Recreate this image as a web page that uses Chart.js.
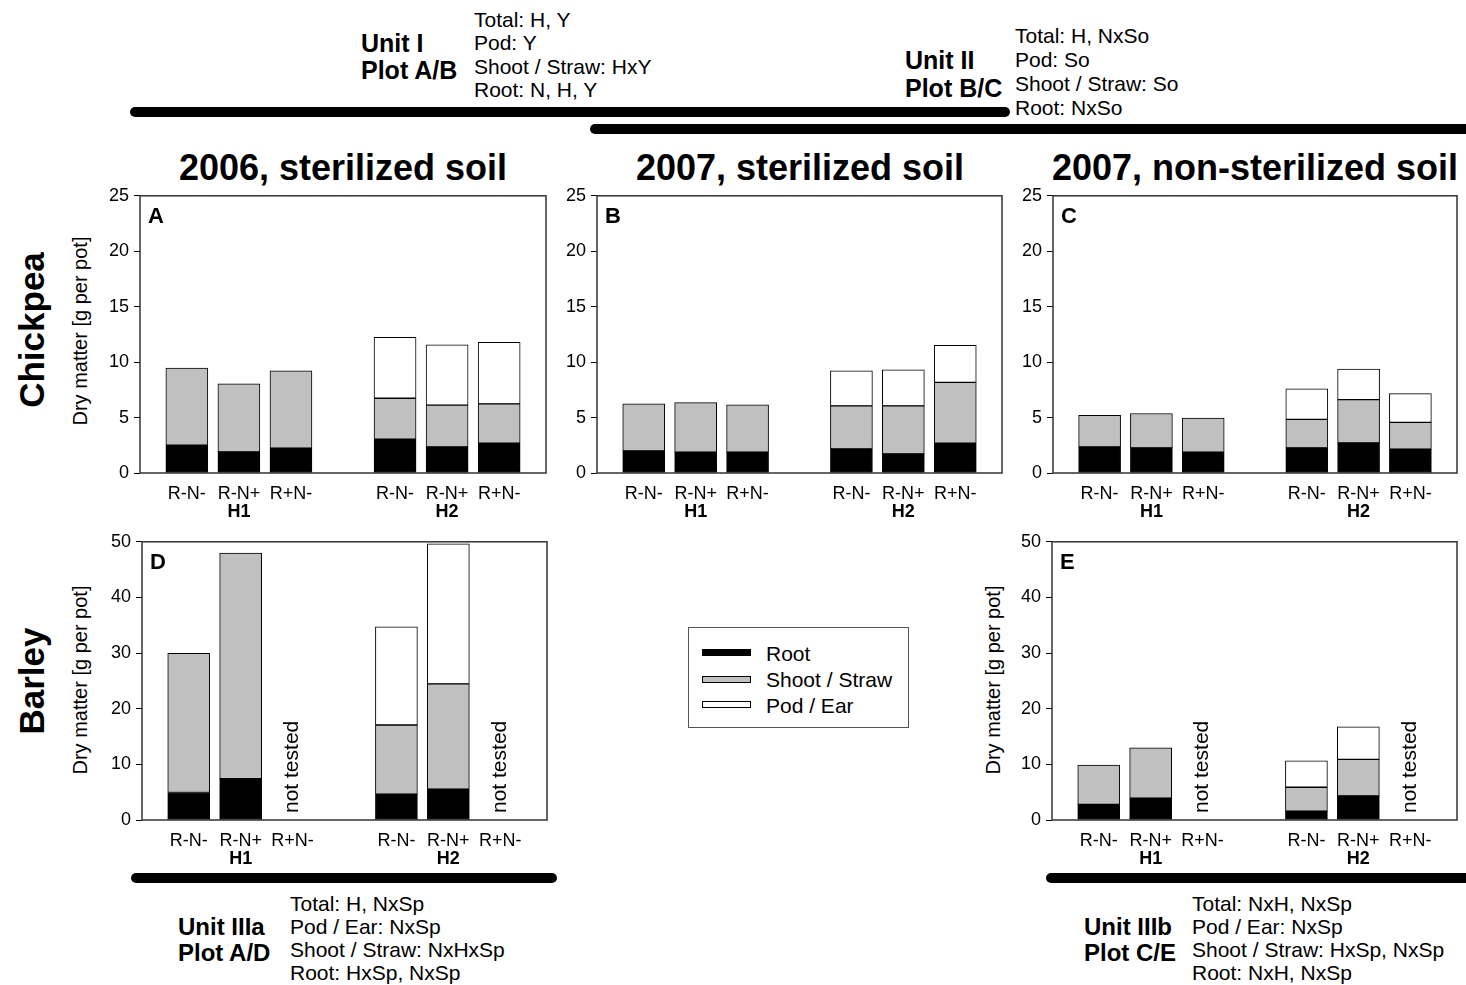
<!DOCTYPE html>
<html>
<head>
<meta charset="utf-8">
<script src="https://cdn.jsdelivr.net/npm/chart.js@4/dist/chart.umd.min.js"></script>
<style>
  html, body { margin: 0; padding: 0; background: #fff; }
  body { width: 1466px; height: 985px; position: relative; overflow: hidden;
         font-family: "Liberation Sans", Arial, Helvetica, sans-serif; color: #000; }
  .t { position: absolute; white-space: nowrap; line-height: 1; transform: translateY(-50%); }
  .b { font-weight: bold; }
  .c { transform: translate(-50%, -50%); }
  .rot { transform: translate(-50%, -50%) rotate(-90deg); }
  .bar { position: absolute; height: 10px; background: #000; border-radius: 5px; }
  canvas { position: absolute; }
  .legend { position: absolute; left: 688px; top: 627px; width: 221px; height: 101px;
            border: 1px solid #555; box-sizing: border-box; }
  .sw { position: absolute; left: 13px; width: 49px; height: 7px; box-sizing: border-box; border: 1px solid #000; }
  .lt { position: absolute; left: 77px; font-size: 21px; line-height: 1; transform: translateY(-50%); white-space: nowrap; }
</style>
</head>
<body>

<!-- statistics annotations and unit bars -->
<div class="t b" style="left:361px;top:43px;font-size:25px">Unit I</div>
<div class="t b" style="left:361px;top:70px;font-size:25px">Plot A/B</div>
<div class="t" style="left:474px;top:19px;font-size:21px">Total: H, Y</div>
<div class="t" style="left:474px;top:42px;font-size:21px">Pod: Y</div>
<div class="t" style="left:474px;top:66px;font-size:21px">Shoot / Straw: HxY</div>
<div class="t" style="left:474px;top:89px;font-size:21px">Root: N, H, Y</div>
<div class="bar" style="left:130px;top:107px;width:880px"></div>

<div class="t b" style="left:905px;top:60px;font-size:25px">Unit II</div>
<div class="t b" style="left:905px;top:88px;font-size:25px">Plot B/C</div>
<div class="t" style="left:1015px;top:35px;font-size:21px">Total: H, NxSo</div>
<div class="t" style="left:1015px;top:59px;font-size:21px">Pod: So</div>
<div class="t" style="left:1015px;top:83px;font-size:21px">Shoot / Straw: So</div>
<div class="t" style="left:1015px;top:107px;font-size:21px">Root: NxSo</div>
<div class="bar" style="left:590px;top:124px;width:900px"></div>

<div class="bar" style="left:131px;top:873px;width:426px"></div>
<div class="t b" style="left:178px;top:927px;font-size:24px">Unit IIIa</div>
<div class="t b" style="left:178px;top:953px;font-size:24px">Plot A/D</div>
<div class="t" style="left:290px;top:903px;font-size:21px">Total: H, NxSp</div>
<div class="t" style="left:290px;top:926px;font-size:21px">Pod / Ear: NxSp</div>
<div class="t" style="left:290px;top:949px;font-size:21px">Shoot / Straw: NxHxSp</div>
<div class="t" style="left:290px;top:972px;font-size:21px">Root: HxSp, NxSp</div>

<div class="bar" style="left:1046px;top:873px;width:450px"></div>
<div class="t b" style="left:1084px;top:927px;font-size:24px">Unit IIIb</div>
<div class="t b" style="left:1084px;top:953px;font-size:24px">Plot C/E</div>
<div class="t" style="left:1192px;top:903px;font-size:21px">Total: NxH, NxSp</div>
<div class="t" style="left:1192px;top:926px;font-size:21px">Pod / Ear: NxSp</div>
<div class="t" style="left:1192px;top:949px;font-size:21px">Shoot / Straw: HxSp, NxSp</div>
<div class="t" style="left:1192px;top:972px;font-size:21px">Root: NxH, NxSp</div>

<!-- column and row headings -->
<div class="t b c" style="left:343px;top:168px;font-size:36px">2006, sterilized soil</div>
<div class="t b c" style="left:800px;top:168px;font-size:36px">2007, sterilized soil</div>
<div class="t b c" style="left:1255px;top:168px;font-size:36px">2007, non-sterilized soil</div>
<div class="t b rot" style="left:31px;top:330px;font-size:35px">Chickpea</div>
<div class="t b rot" style="left:31px;top:681px;font-size:35px">Barley</div>
<div class="t rot" style="left:80px;top:331px;font-size:20px">Dry matter [g per pot]</div>
<div class="t rot" style="left:80px;top:680px;font-size:20px">Dry matter [g per pot]</div>
<div class="t rot" style="left:993px;top:680px;font-size:20px">Dry matter [g per pot]</div>

<!-- legend -->
<div class="legend">
  <div class="sw" style="top:21px;background:#000"></div><div class="lt" style="top:25px">Root</div>
  <div class="sw" style="top:48px;background:#c0c0c0"></div><div class="lt" style="top:51px">Shoot / Straw</div>
  <div class="sw" style="top:73px;background:#fff"></div><div class="lt" style="top:77px">Pod / Ear</div>
</div>

<script>
// Treatments within each host, and the host groups
const treatments = ['R-N-', 'R-N+', 'R+N-'];
const hosts = ['H1', 'H2'];
const seriesNames = ['Root', 'Shoot / Straw', 'Pod / Ear'];
const seriesColors = ['#000000', '#c0c0c0', '#ffffff'];

// Dry matter of each plant part [g per pot]
// order: H1 R-N-, H1 R-N+, H1 R+N-, H2 R-N-, H2 R-N+, H2 R+N-  (null = not tested / absent)
const rootA  = [2.50, 1.90, 2.24, 3.04, 2.36, 2.68];
const shootA = [6.96, 6.15, 6.98, 3.70, 3.76, 3.56];
const podA   = [null, null, null, 5.49, 5.43, 5.54];

const rootB  = [2.00, 1.88, 1.88, 2.18, 1.73, 2.68];
const shootB = [4.24, 4.47, 4.27, 3.88, 4.33, 5.49];
const podB   = [null, null, null, 3.16, 3.25, 3.35];

const rootC  = [2.36, 2.27, 1.88, 2.27, 2.71, 2.15];
const shootC = [2.83, 3.10, 3.07, 2.56, 3.91, 2.41];
const podC   = [null, null, null, 2.75, 2.75, 2.60];

const rootD  = [4.94, 7.44, null, 4.64, 5.54, null];
const shootD = [25.00, 40.54, null, 12.44, 18.92, null];
const podD   = [null, null, null, 17.62, 25.18, null];

const rootE  = [2.80, 3.93, null, 1.60, 4.35, null];
const shootE = [7.08, 9.05, null, 4.29, 6.54, null];
const podE   = [null, null, null, 4.76, 5.84, null];

// y-axis ranges
const chickpeaTicks = { max: 25, step: 5 };
const barleyTicks   = { max: 50, step: 10 };

const FONT = '"Liberation Sans", Arial, Helvetica, sans-serif';

// Plot rectangles on the page: [left, top, right, bottom]
const panels = [
  { letter: 'A', box: [140, 194, 546, 473], axis: chickpeaTicks, series: [rootA, shootA, podA] },
  { letter: 'B', box: [597, 194, 1002, 473], axis: chickpeaTicks, series: [rootB, shootB, podB] },
  { letter: 'C', box: [1053, 194, 1457, 473], axis: chickpeaTicks, series: [rootC, shootC, podC] },
  { letter: 'D', box: [142, 540, 547, 820], axis: barleyTicks, series: [rootD, shootD, podD] },
  { letter: 'E', box: [1052, 540, 1457, 820], axis: barleyTicks, series: [rootE, shootE, podE] }
];

// bar k sits in host group floor(k/3), one empty slot between groups
const xPos = k => Math.floor(k / 3) * 4 + (k % 3);
const tickPositions = [0, 1, 2, 3, 4, 5].map(xPos);

const PAD_L = 72, PAD_T = 14, PAD_R = 12, PAD_B = 60;

const panelDecor = {
  id: 'panelDecor',
  afterDraw(chart, args, opts) {
    const { ctx, chartArea: a, scales: { x, y } } = chart;
    ctx.save();
    // frame around plot area
    ctx.strokeStyle = '#333';
    ctx.lineWidth = 1.5;
    ctx.strokeRect(a.left, a.top, a.right - a.left, a.bottom - a.top);
    ctx.fillStyle = '#000';
    ctx.textBaseline = 'middle';
    // panel letter
    ctx.font = 'bold 22px ' + FONT;
    ctx.textAlign = 'left';
    ctx.fillText(opts.letter, a.left + 8, a.top + 21);
    // host group labels
    ctx.font = 'bold 18px ' + FONT;
    ctx.textAlign = 'center';
    hosts.forEach((h, i) => ctx.fillText(h, x.getPixelForValue(i * 4 + 1), a.bottom + 39));
    // untested treatments
    ctx.font = '21px ' + FONT;
    ctx.textAlign = 'left';
    const base = y.getPixelForValue(0) - 7;
    for (let k = 0; k < 6; k++) {
      if (opts.series.every(s => s[k] == null)) {
        ctx.save();
        ctx.translate(x.getPixelForValue(xPos(k)), base);
        ctx.rotate(-Math.PI / 2);
        ctx.fillText('not tested', 0, 0);
        ctx.restore();
      }
    }
    ctx.restore();
  }
};

panels.forEach(p => {
  const [L, T, R, B] = p.box;
  const cv = document.createElement('canvas');
  cv.width = (R - L) + PAD_L + PAD_R;
  cv.height = (B - T) + PAD_T + PAD_B;
  cv.style.left = (L - PAD_L) + 'px';
  cv.style.top = (T - PAD_T) + 'px';
  document.body.appendChild(cv);

  const datasets = seriesNames.map((name, s) => ({
    label: name,
    data: p.series[s].map((v, k) => (v == null ? null : { x: xPos(k), y: v })).filter(Boolean),
    backgroundColor: seriesColors[s],
    borderColor: '#000',
    borderWidth: 1,
    borderSkipped: false,
    barThickness: 42
  }));

  new Chart(cv, {
    type: 'bar',
    data: { datasets },
    plugins: [panelDecor],
    options: {
      responsive: false,
      animation: false,
      layout: { padding: { left: 0, top: PAD_T, right: PAD_R, bottom: 0 } },
      plugins: {
        legend: { display: false },
        tooltip: { enabled: false },
        panelDecor: { letter: p.letter, series: p.series }
      },
      scales: {
        x: {
          type: 'linear',
          min: -0.9,
          max: 6.9,
          offset: false,
          stacked: true,
          border: { display: false },
          grid: { display: false, drawTicks: false, offset: false },
          afterBuildTicks: s => { s.ticks = tickPositions.map(v => ({ value: v })); },
          afterFit: s => { s.height = PAD_B; },
          ticks: {
            autoSkip: false,
            maxRotation: 0,
            padding: 10,
            color: '#000',
            font: { family: FONT, size: 18 },
            callback: v => treatments[v % 4]
          }
        },
        y: {
          min: 0,
          max: p.axis.max,
          stacked: true,
          border: { display: false },
          grid: { drawOnChartArea: false, drawTicks: true, tickLength: 6, color: '#000' },
          afterFit: s => { s.width = PAD_L; },
          ticks: {
            stepSize: p.axis.step,
            padding: 5,
            color: '#000',
            font: { family: FONT, size: 18 }
          }
        }
      }
    }
  });
});
</script>
</body>
</html>
